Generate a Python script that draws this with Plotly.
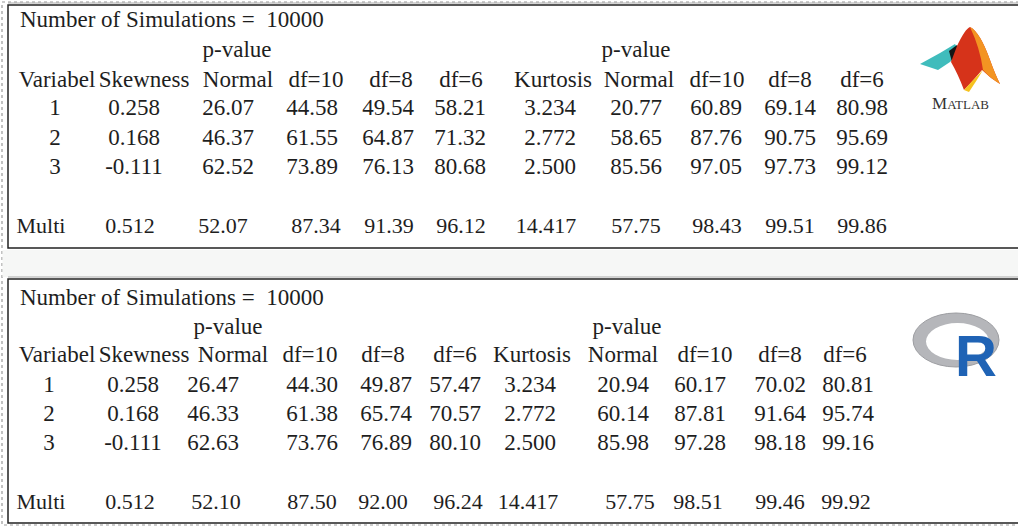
import plotly.graph_objects as go

# ---------------- data ----------------
title_text = "Number of Simulations =  10000"
pvalue_label = "p-value"
headers = ["Variabel", "Skewness", "Normal", "df=10", "df=8", "df=6",
           "Kurtosis", "Normal", "df=10", "df=8", "df=6"]
row_labels = ["1", "2", "3", "Multi"]

matlab_skew = ["0.258", "0.168", "-0.111", "0.512"]
matlab_skew_p = [["26.07", "44.58", "49.54", "58.21"],
                 ["46.37", "61.55", "64.87", "71.32"],
                 ["62.52", "73.89", "76.13", "80.68"],
                 ["52.07", "87.34", "91.39", "96.12"]]
matlab_kurt = ["3.234", "2.772", "2.500", "14.417"]
matlab_kurt_p = [["20.77", "60.89", "69.14", "80.98"],
                 ["58.65", "87.76", "90.75", "95.69"],
                 ["85.56", "97.05", "97.73", "99.12"],
                 ["57.75", "98.43", "99.51", "99.86"]]

r_skew = ["0.258", "0.168", "-0.111", "0.512"]
r_skew_p = [["26.47", "44.30", "49.87", "57.47"],
            ["46.33", "61.38", "65.74", "70.57"],
            ["62.63", "73.76", "76.89", "80.10"],
            ["52.10", "87.50", "92.00", "96.24"]]
r_kurt = ["3.234", "2.772", "2.500", "14.417"]
r_kurt_p = [["20.94", "60.17", "70.02", "80.81"],
            ["60.14", "87.81", "91.64", "95.74"],
            ["85.98", "97.28", "98.18", "99.16"],
            ["57.75", "98.51", "99.46", "99.92"]]

# ---------------- layout positions ----------------
FONT = "Liberation Serif"
COLOR = "#1e1e1e"
FS = 23

tables = [
    dict(skew=matlab_skew, skew_p=matlab_skew_p, kurt=matlab_kurt, kurt_p=matlab_kurt_p,
         head_x=[57, 144, 238, 316, 391, 461, 553, 639, 717, 790, 862],
         val_x=[55, 134, 228, 312, 388, 460, 550, 636, 716, 790, 862],
         multi_x=[41, 130, 223, 316, 389, 461, 546, 636, 717, 790, 862],
         p_x=[237, 636],
         ys=dict(title=21, p=51, head=81, rows=[109, 139, 168], multi=227)),
    dict(skew=r_skew, skew_p=r_skew_p, kurt=r_kurt, kurt_p=r_kurt_p,
         head_x=[57, 144, 233, 310, 383, 455, 532, 623, 705, 780, 845],
         val_x=[49, 133, 213, 312, 386, 455, 530, 623, 700, 780, 848],
         multi_x=[41, 130, 216, 312, 383, 458, 528, 630, 698, 780, 846],
         p_x=[228, 627],
         ys=dict(title=299, p=328, head=356, rows=[386, 415, 444], multi=503)),
]

fig = go.Figure()

def add_text(xs, ys, texts, size=FS, pos="middle center"):
    fig.add_trace(go.Scatter(x=xs, y=ys, mode="text", text=texts, textposition=pos,
                             textfont=dict(family=FONT, size=size, color=COLOR),
                             hoverinfo="skip", showlegend=False))

for t in tables:
    ys = t["ys"]
    add_text([20], [ys["title"]], [title_text], pos="middle right")
    add_text(t["p_x"], [ys["p"]] * 2, [pvalue_label] * 2)
    add_text(t["head_x"], [ys["head"]] * len(headers), headers)
    for i in range(3):
        cells = [row_labels[i], t["skew"][i]] + t["skew_p"][i] + [t["kurt"][i]] + t["kurt_p"][i]
        add_text(t["val_x"], [ys["rows"][i]] * len(cells), cells)
    cells = [row_labels[3], t["skew"][3]] + t["skew_p"][3] + [t["kurt"][3]] + t["kurt_p"][3]
    add_text(t["multi_x"], [ys["multi"]] * len(cells), cells, size=22)

shapes = []
shapes.append(dict(type="rect", x0=2, x1=1030, y0=2, y1=525,
                   line=dict(color="#9a9a9a", width=1.2, dash="dot"), layer="below"))
shapes.append(dict(type="rect", x0=2.5, x1=1030, y0=250, y1=277,
                   fillcolor="#f6f7f6", line=dict(width=0), layer="below"))
for y0, y1 in [(5, 248), (279, 523)]:
    shapes.append(dict(type="rect", x0=8, x1=1030, y0=y0, y1=y1,
                       fillcolor="white", line=dict(color="#222", width=1.5), layer="below"))
    shapes.append(dict(type="line", x0=8, x1=1030, y0=y0 - 2, y1=y0 - 2,
                       line=dict(color="#aaa", width=1), layer="below"))

# MATLAB logo (simplified membrane)
shapes.append(dict(type="path",
                   path="M 920 64 L 940 53 L 955 44 L 960 52 L 950 62 L 938 70 Z",
                   fillcolor="#3fbcbc", line=dict(width=0)))
shapes.append(dict(type="path",
                   path="M 949 51 L 957 45 L 962 53 L 952 62 Z",
                   fillcolor="#151515", line=dict(width=0)))
shapes.append(dict(type="path",
                   path="M 957 46 Q 965 29 970 27 Q 980 32 990 60 Q 995 74 1000 84 Q 990 78 982 70 Q 972 82 964 90 Q 958 74 951 62 Z",
                   fillcolor="#d6331a", line=dict(width=0)))
shapes.append(dict(type="path",
                   path="M 970 27 Q 980 32 990 60 Q 995 74 1000 84 Q 990 78 983 70 Q 980 48 970 27 Z",
                   fillcolor="#f39422", line=dict(width=0)))
shapes.append(dict(type="path",
                   path="M 964 90 Q 973 80 983 70 Q 977 80 969 92 Z",
                   fillcolor="#f6c21f", line=dict(width=0)))
# R logo ring
shapes.append(dict(type="circle", x0=913, x1=999, y0=313, y1=367,
                   fillcolor="#b5b6ba", line=dict(color="#9c9da1", width=1)))
shapes.append(dict(type="circle", x0=926, x1=989, y0=323, y1=360,
                   fillcolor="white", line=dict(width=0)))

fig.update_layout(shapes=shapes)

fig.add_annotation(x=960, y=103, xref="x", yref="y", text="M<span style='font-size:13px'>ATLAB</span>",
                   showarrow=False, font=dict(family=FONT, size=17, color="#333"))
fig.add_annotation(x=976, y=355, xref="x", yref="y", text="<b>R</b>",
                   showarrow=False, font=dict(family="Liberation Sans", size=58, color="#1f63b5"))

fig.update_xaxes(range=[0, 1018], visible=False, fixedrange=True)
fig.update_yaxes(range=[527, 0], visible=False, fixedrange=True)
fig.update_layout(width=1018, height=527, margin=dict(l=0, r=0, t=0, b=0),
                  paper_bgcolor="white", plot_bgcolor="white", showlegend=False)

fig.write_html("out.html", config={"displayModeBar": False},
               post_script="document.body.style.margin='0px';document.body.style.overflow='hidden';")
